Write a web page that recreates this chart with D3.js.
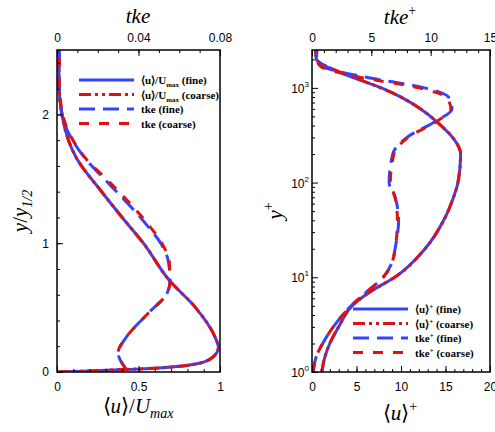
<!DOCTYPE html><html><head><script src="https://cdn.jsdelivr.net/npm/d3@7"></script>
<style>body{margin:0;background:#fff}text{font-family:"Liberation Serif",serif}</style></head><body>
<svg id="c" width="495" height="432"></svg>
<script>
// Left panel data: y/y1/2
const yL=[0,0.03,0.07,0.12,0.19,0.27,0.5,0.71,1.0,1.2,1.39,1.66,2.0,2.26,2.5];
const uFine=[0,0.6,0.88,0.96,0.99,0.97,0.85,0.69,0.53,0.40,0.28,0.12,0.03,0.012,0.012];
const uCoarse=[0,0.6,0.88,0.96,0.99,0.97,0.85,0.69,0.53,0.40,0.28,0.12,0.03,0.012,0.012];
const tkeLy=[0.02,0.15,0.27,0.46,0.61,0.71,0.87,0.97,1.18,1.47,1.66,2.0,2.26,2.5];
const tkeFine=[0.034,0.030,0.034,0.045,0.054,0.0555,0.0545,0.052,0.042,0.025,0.0137,0.0025,0.001,0.0012];
const tkeCoarse=[0.034,0.030,0.034,0.045,0.054,0.0555,0.055,0.0525,0.043,0.026,0.014,0.0028,0.001,0.0012];
// Right panel data: y+
const yR=[1,1.5,2,3,5,7,10,20,40,70,100,200,300,400,600,800,1000,1300,1700,2000,2500];
const upFine=[1.1,1.5,2.0,3.0,4.5,6.5,9.3,12.7,14.8,15.9,16.4,16.7,15.8,14.5,12.2,10,7.8,4.5,1.5,0.5,0.4];
const upCoarse=[1.1,1.5,2.0,3.0,4.5,6.5,9.3,12.7,14.8,15.9,16.4,16.7,15.8,14.5,12.2,10,7.7,4.6,1.6,0.5,0.4];
const tkeR=[1,1.5,2,3,5,7,10,15,20,40,70,100,200,300,450,600,800,1000,1300,1700,2000,2500];
const tkpFine=[0.1,0.4,0.9,1.8,3.3,4.6,6.0,6.8,7.0,7.3,7.0,6.5,6.8,8.0,10.5,11.8,11.5,9.5,4.5,0.8,0.4,0.4];
const tkpCoarse=[0.1,0.4,0.9,1.8,3.3,4.6,6.0,6.8,7.0,7.2,7.0,6.6,6.9,8.1,10.6,11.7,11.3,9.0,4.0,0.7,0.4,0.4];

const svg=d3.select("#c");
const T=50,B=372;
const BLUE="#3344ff",RED="#dd1111";
const styles=[{c:BLUE,d:null},{c:RED,d:"12,4,3,4,3,4"},{c:BLUE,d:"16,8"},{c:RED,d:"10,10"}];
function draw(g,pts,st){g.append("path").datum(pts).attr("fill","none").attr("stroke",st.c).attr("stroke-width",3)
 .attr("stroke-dasharray",st.d).attr("d",d3.line().curve(d3.curveMonotoneY).x(d=>d[0]).y(d=>d[1]));}
function box(x0,x1){svg.append("rect").attr("x",x0).attr("y",T).attr("width",x1-x0).attr("height",B-T).attr("fill","none").attr("stroke","#000").attr("stroke-width",1.5);}
function clip(id,x0,x1){svg.append("clipPath").attr("id",id).append("rect").attr("x",x0).attr("y",T).attr("width",x1-x0).attr("height",B-T);}
function ax(g,a){g.call(a);g.select(".domain").remove();g.selectAll("text").style("font-family","Liberation Sans,Arial").style("font-size","12px");}
const fmt=d=>String(+d.toFixed(2));

// Left
const L0=57,L1=220;
const xu=d3.scaleLinear([0,1],[L0,L1]),xt=d3.scaleLinear([0,0.08],[L0,L1]),yl=d3.scaleLinear([0,2.5],[B,T]);
clip("cl",L0,L1);
const gl=svg.append("g").attr("clip-path","url(#cl)");
draw(gl,uFine.map((v,i)=>[xu(v),yl(yL[i])]),styles[0]);
draw(gl,uCoarse.map((v,i)=>[xu(v),yl(yL[i])]),styles[1]);
draw(gl,tkeFine.map((v,i)=>[xt(v),yl(tkeLy[i])]),styles[2]);
draw(gl,tkeCoarse.map((v,i)=>[xt(v),yl(tkeLy[i])]),styles[3]);
ax(svg.append("g").attr("transform",`translate(0,${B})`),d3.axisBottom(xu).tickValues([0,0.5,1]).tickFormat(fmt).tickSize(-6).tickPadding(10));
ax(svg.append("g").attr("transform",`translate(0,${B})`),d3.axisBottom(xu).tickValues(d3.range(0.1,1,0.1)).tickFormat("").tickSize(-3));
ax(svg.append("g").attr("transform",`translate(0,${T})`),d3.axisTop(xt).tickValues([0,0.04,0.08]).tickFormat(fmt).tickSize(-6).tickPadding(8));
ax(svg.append("g").attr("transform",`translate(0,${T})`),d3.axisTop(xt).tickValues(d3.range(0.01,0.08,0.01)).tickFormat("").tickSize(-3));
ax(svg.append("g").attr("transform",`translate(${L0},0)`),d3.axisLeft(yl).tickValues([0,1,2]).tickFormat(fmt).tickSize(-6).tickPadding(8));
ax(svg.append("g").attr("transform",`translate(${L0},0)`),d3.axisLeft(yl).tickValues(d3.range(0.2,2.5,0.2)).tickFormat("").tickSize(-3));
box(L0,L1);
svg.append("text").attr("x",138).attr("y",413).attr("text-anchor","middle").attr("font-size",21).html('⟨<tspan font-style="italic">u</tspan>⟩/<tspan font-style="italic">U</tspan><tspan font-style="italic" font-size="14" dy="5">max</tspan>');
svg.append("text").attr("x",138).attr("y",23).attr("text-anchor","middle").attr("font-size",21).attr("font-style","italic").text("tke");
svg.append("text").attr("transform","translate(27,211) rotate(-90)").attr("text-anchor","middle").attr("font-size",21).html('<tspan font-style="italic">y</tspan>/<tspan font-style="italic">y</tspan><tspan font-style="italic" font-size="14" dy="5">1/2</tspan>');

// Right
const R0=312,R1=490;
const xp=d3.scaleLinear([0,20],[R0,R1]),xk=d3.scaleLinear([0,15],[R0,R1]),yr=d3.scaleLog([1,10**(3+38/95)],[B,T]);
clip("cr",R0,R1);
const gr=svg.append("g").attr("clip-path","url(#cr)");
draw(gr,upFine.map((v,i)=>[xp(v),yr(yR[i])]),styles[0]);
draw(gr,upCoarse.map((v,i)=>[xp(v),yr(yR[i])]),styles[1]);
draw(gr,tkpFine.map((v,i)=>[xk(v),yr(tkeR[i])]),styles[2]);
draw(gr,tkpCoarse.map((v,i)=>[xk(v),yr(tkeR[i])]),styles[3]);
ax(svg.append("g").attr("transform",`translate(0,${B})`),d3.axisBottom(xp).tickValues([0,5,10,15,20]).tickSize(-6).tickPadding(10));
ax(svg.append("g").attr("transform",`translate(0,${B})`),d3.axisBottom(xp).tickValues(d3.range(1,20,1)).tickFormat("").tickSize(-3));
ax(svg.append("g").attr("transform",`translate(0,${T})`),d3.axisTop(xk).tickValues([0,5,10,15]).tickSize(-6).tickPadding(8));
ax(svg.append("g").attr("transform",`translate(0,${T})`),d3.axisTop(xk).tickValues(d3.range(1,15,1)).tickFormat("").tickSize(-3));
const minor=[];for(let e=0;e<4;e++)for(let m=2;m<10;m++){const v=m*10**e;if(v<2500)minor.push(v);}
ax(svg.append("g").attr("transform",`translate(${R0},0)`),d3.axisRight(yr).tickValues(minor).tickFormat("").tickSize(3));
ax(svg.append("g").attr("transform",`translate(${R0},0)`),d3.axisRight(yr).tickValues([1,10,100,1000]).tickFormat("").tickSize(6));
[0,1,2,3].forEach(e=>svg.append("text").attr("x",R0-3).attr("y",yr(10**e)+5).attr("text-anchor","end").style("font-family","Liberation Sans,Arial").attr("font-size",12)
 .html(`10<tspan font-size="8" dy="-6">${e}</tspan>`));
box(R0,R1);
svg.append("text").attr("x",400).attr("y",420).attr("text-anchor","middle").attr("font-size",21).html('⟨<tspan font-style="italic">u</tspan>⟩<tspan font-size="14" dy="-9">+</tspan>');
svg.append("text").attr("x",400).attr("y",24).attr("text-anchor","middle").attr("font-size",21).html('<tspan font-style="italic">tke</tspan><tspan font-size="14" dy="-9">+</tspan>');
svg.append("text").attr("transform","translate(282,211) rotate(-90)").attr("text-anchor","middle").attr("font-size",21).html('<tspan font-style="italic">y</tspan><tspan font-size="14" dy="-9">+</tspan>');

// Legends
function legend(x,y,labels){labels.forEach((l,i)=>{const yy=y+i*14.5;
 svg.append("line").attr("x1",x).attr("x2",x+55).attr("y1",yy).attr("y2",yy).attr("stroke",styles[i].c).attr("stroke-width",3).attr("stroke-dasharray",styles[i].d);
 svg.append("text").attr("x",x+62).attr("y",yy+4).attr("font-size",11).attr("font-weight","bold").html(l);});}
legend(79,80,['⟨u⟩/U<tspan font-size="7" dy="3">max</tspan><tspan dy="-3"> (fine)</tspan>','⟨u⟩/U<tspan font-size="7" dy="3">max</tspan><tspan dy="-3"> (coarse)</tspan>','tke (fine)','tke (coarse)']);
legend(353,309,['⟨u⟩<tspan font-size="7" dy="-4">+</tspan><tspan dy="4"> (fine)</tspan>','⟨u⟩<tspan font-size="7" dy="-4">+</tspan><tspan dy="4"> (coarse)</tspan>','tke<tspan font-size="7" dy="-4">+</tspan><tspan dy="4"> (fine)</tspan>','tke<tspan font-size="7" dy="-4">+</tspan><tspan dy="4"> (coarse)</tspan>']);
</script></body></html>
